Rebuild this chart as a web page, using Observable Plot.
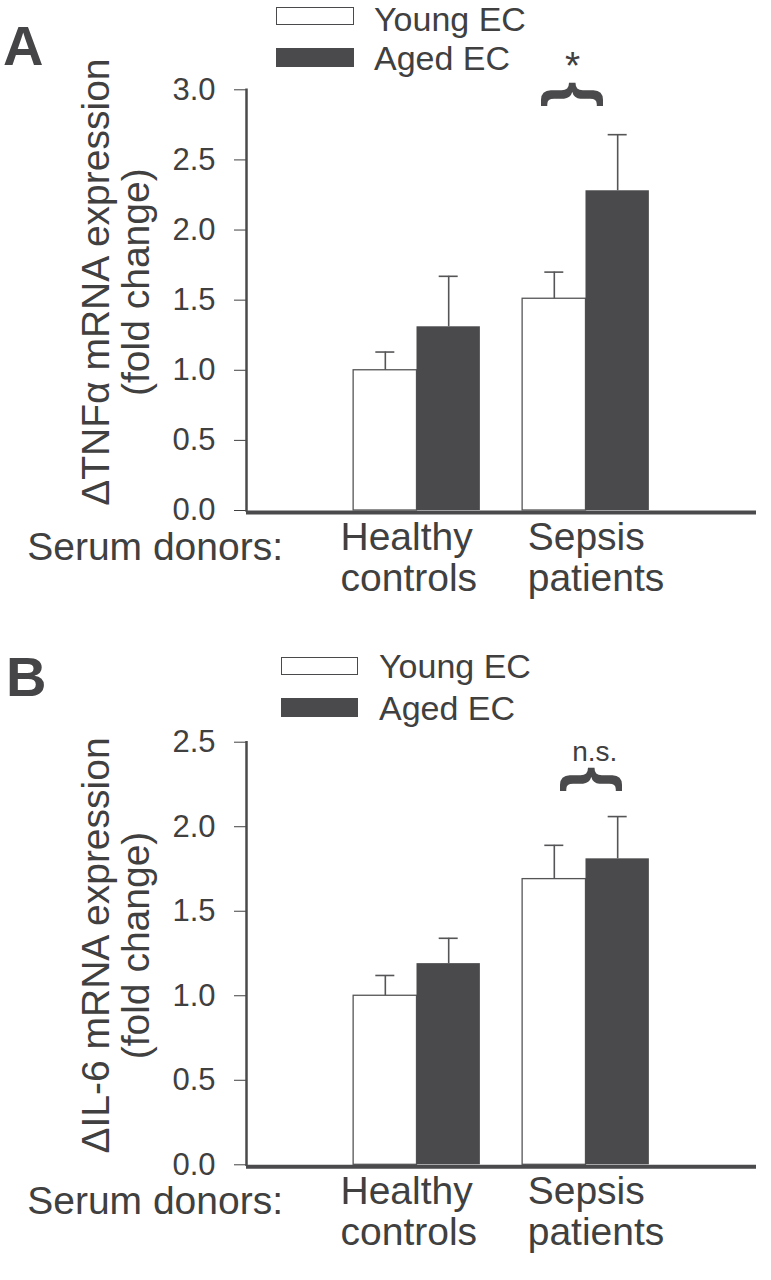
<!DOCTYPE html>
<html><head><meta charset="utf-8">
<script src="https://cdn.jsdelivr.net/npm/d3@7"></script>
<script src="https://cdn.jsdelivr.net/npm/@observablehq/plot@0.6"></script>
<style>
body{margin:0;background:#fff;}
#wrap{position:relative;width:771px;height:1280px;overflow:hidden;font-family:"Liberation Sans",Arial,sans-serif;color:#404040;}
.panel{position:absolute;left:0;}
.box{position:absolute;box-sizing:border-box;border:1.5px solid #4a4a4c;}
.lt{position:absolute;font-size:34px;line-height:28px;white-space:nowrap;}
.letter{position:absolute;font-size:56px;line-height:56px;font-weight:bold;color:#454547;}
</style></head><body><div id="wrap"></div>
<script>
// ---- data ----
const groups = ["Healthy", "Sepsis"];
const groupLabels = ["Healthy\ncontrols", "Sepsis\npatients"];
const seriesNames = ["Young EC", "Aged EC"];
const tnfYoung = [1.00, 1.51];
const tnfYoungSE = [0.13, 0.19];
const tnfAged = [1.31, 2.28];
const tnfAgedSE = [0.36, 0.40];
const il6Young = [1.00, 1.69];
const il6YoungSE = [0.12, 0.20];
const il6Aged = [1.19, 1.81];
const il6AgedSE = [0.15, 0.25];
const tnfTicks = [0, 0.5, 1.0, 1.5, 2.0, 2.5, 3.0];
const il6Ticks = [0, 0.5, 1.0, 1.5, 2.0, 2.5];
const panelLetters = ["A", "B"];
const tnfTitle = "ΔTNFα mRNA expression\n(fold change)";
const il6Title = "ΔIL-6 mRNA expression\n(fold change)";
const xPrefix = "Serum donors:";
const tnfSig = {group: "Sepsis", label: "*"};
const il6Sig = {group: "Sepsis", label: "n.s."};

// ---- layout / style ----
const W = 771, ML = 246, MR = 15;
const PAD_IN = 0.25, PAD_OUT = 0.634;
const frameW = W - ML - MR;
const step = frameW / (groups.length - PAD_IN + 2 * PAD_OUT);
const bw = step * (1 - PAD_IN);
const half = bw / 2, q = bw / 4, cap = 19;
const INK = "#404040", DARK = "#4a4a4c", LINE = "#555557";
const FONT = '"Liberation Sans", Arial, sans-serif';

function panel(o) {
  const data = [];
  groups.forEach((g, i) => {
    data.push({group: g, series: seriesNames[0], value: o.young[i], se: o.youngSE[i]});
    data.push({group: g, series: seriesNames[1], value: o.aged[i], se: o.agedSE[i]});
  });
  const young = data.filter(d => d.series === seriesNames[0]);
  const aged = data.filter(d => d.series === seriesNames[1]);
  const labelRows = groups.map((g, i) => ({group: g, label: groupLabels[i]}));
  const topv = d => d.value + d.se;
  return Plot.plot({
    width: W, height: o.height,
    marginLeft: ML, marginRight: MR, marginTop: o.mt, marginBottom: o.mb,
    style: {fontFamily: FONT, fontSize: "31px", color: INK, background: "transparent", overflow: "visible"},
    x: {type: "band", domain: groups, paddingInner: PAD_IN, paddingOuter: PAD_OUT, round: false, axis: null},
    y: {domain: o.domain, ticks: o.ticks, tickFormat: d3.format(".1f"), tickSize: 12, tickPadding: 19, label: null},
    marks: [
      Plot.barY(young, {x: "group", y: "value", fill: "white", stroke: LINE, strokeWidth: 1.3, insetRight: half}),
      Plot.barY(aged, {x: "group", y: "value", fill: DARK, insetLeft: half}),
      Plot.ruleX(young, {x: "group", y1: "value", y2: topv, dx: -q, stroke: LINE, strokeWidth: 1.6}),
      Plot.ruleX(aged, {x: "group", y1: "value", y2: topv, dx: q, stroke: LINE, strokeWidth: 1.6}),
      Plot.tickY(young, {x: "group", y: topv, insetLeft: q - cap / 2, insetRight: bw - q - cap / 2, stroke: LINE, strokeWidth: 1.6}),
      Plot.tickY(aged, {x: "group", y: topv, insetLeft: bw - q - cap / 2, insetRight: q - cap / 2, stroke: LINE, strokeWidth: 1.6}),
      Plot.ruleY([0], {stroke: DARK, strokeWidth: 4, dy: 2}),
      Plot.frame({anchor: "left", stroke: DARK, strokeWidth: 2.5}),
      Plot.text(labelRows.filter(d => d.group === groups[0]), {x: "group", text: "label", frameAnchor: "bottom", textAnchor: "start", lineAnchor: "top", lineHeight: 1.05, fontSize: 39, dx: -76.5, dy: 10, fill: INK}),
      Plot.text(labelRows.filter(d => d.group === groups[1]), {x: "group", text: "label", frameAnchor: "bottom", textAnchor: "start", lineAnchor: "top", lineHeight: 1.05, fontSize: 39, dx: -58.3, dy: 10, fill: INK}),
      Plot.text([xPrefix], {frameAnchor: "bottom-left", textAnchor: "start", lineAnchor: "bottom", fontSize: 39, dx: -219.3, dy: 49, fill: INK}),
      Plot.text([o.title], {frameAnchor: "left", rotate: -90, textAnchor: "middle", lineAnchor: "middle", lineHeight: 1.05, fontSize: 39, dx: -130.6, dy: o.titleDy, fill: INK}),
      Plot.text([o.sig], {x: "group", text: "label", frameAnchor: "top", textAnchor: "middle", lineAnchor: "bottom", fontSize: o.sigSize, dx: o.sigDx, dy: o.sigDy, fill: INK}),
      Plot.text([o.sig], {x: "group", text: () => "{", frameAnchor: "top", rotate: 90, textAnchor: "middle", lineAnchor: "middle", fontSize: 66, fontWeight: "bold", dx: o.braceDx, dy: o.braceDy, fill: DARK})
    ]
  });
}

const wrap = document.getElementById("wrap");

function place(svg, top) {
  const d = document.createElement("div");
  d.className = "panel";
  d.style.top = top + "px";
  d.appendChild(svg);
  wrap.appendChild(d);
}

function legend(boxLeft, boxW, textLeft, boxes, baselines) {
  seriesNames.forEach((s, i) => {
    const b = document.createElement("div");
    b.className = "box";
    b.style.left = boxLeft + "px";
    b.style.width = boxW + "px";
    b.style.top = boxes[i][0] + "px";
    b.style.height = boxes[i][1] + "px";
    b.style.background = i === 0 ? "#fff" : DARK;
    wrap.appendChild(b);
    const t = document.createElement("div");
    t.className = "lt";
    t.style.left = textLeft + "px";
    t.style.top = (baselines[i] - 25.8) + "px";
    t.textContent = s;
    wrap.appendChild(t);
  });
}

function letter(txt, left, baseline) {
  const t = document.createElement("div");
  t.className = "letter";
  t.style.left = left + "px";
  t.style.top = (baseline - 47.4) + "px";
  t.textContent = txt;
  wrap.appendChild(t);
}

place(panel({
  young: tnfYoung, youngSE: tnfYoungSE, aged: tnfAged, agedSE: tnfAgedSE,
  domain: [0, 3], ticks: tnfTicks, title: tnfTitle, titleDy: -18,
  height: 620, mt: 89.3, mb: 110,
  sig: tnfSig, sigSize: 39, sigDx: -13.3, sigDy: -10.8, braceDx: -10, braceDy: 4.7
}), 0);

place(panel({
  young: il6Young, youngSE: il6YoungSE, aged: il6Aged, agedSE: il6AgedSE,
  domain: [0, 2.5], ticks: il6Ticks, title: il6Title, titleDy: -8,
  height: 660, mt: 121.7, mb: 115.7,
  sig: il6Sig, sigSize: 28, sigDx: 8.7, sigDy: 18.3, braceDx: 8.7, braceDy: 37.3
}), 620);

legend(276, 78, 374, [[7, 17.7], [48, 18.5]], [31, 69.5]);
legend(281, 77, 379, [[656.7, 18.3], [698, 19]], [677.8, 719.5]);
letter(panelLetters[0], 3, 65);
letter(panelLetters[1], 6, 696);
</script></body></html>
